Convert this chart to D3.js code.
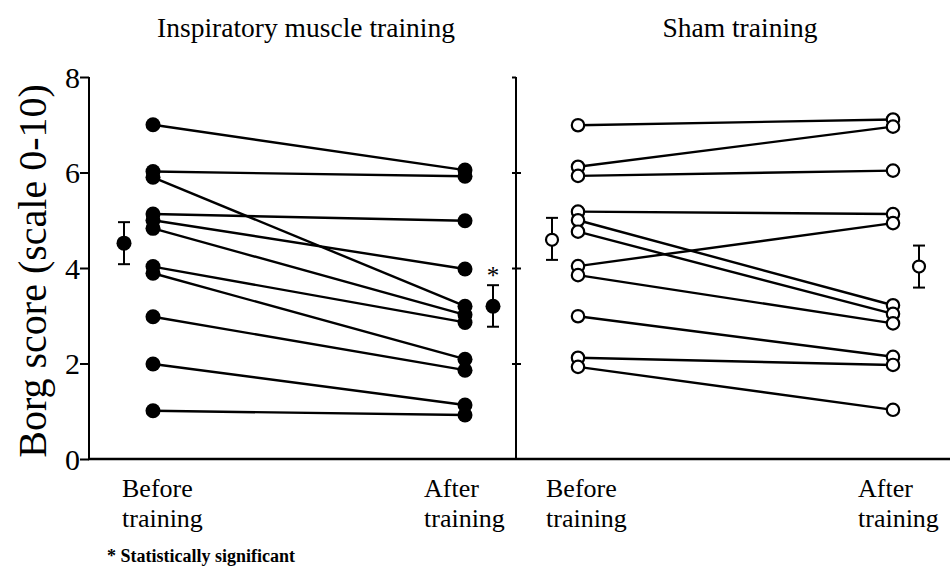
<!DOCTYPE html>
<html>
<head>
<meta charset="utf-8">
<script src="https://cdn.jsdelivr.net/npm/d3@7"></script>
<style>
  html, body { margin: 0; padding: 0; background: #fff; }
  svg { display: block; }
  text { font-family: "Liberation Serif", "Times New Roman", serif; fill: #000; }
</style>
</head>
<body>
<svg id="chart" width="950" height="574"></svg>
<script>
// ---------- DATA ----------
const panelTitles = ["Inspiratory muscle training", "Sham training"];
const timeLabels = [["Before", "training"], ["After", "training"]];
const yTicks = [0, 2, 4, 6, 8];
const yLabel = "Borg score (scale 0-10)";
const footnote = "* Statistically significant";

// Inspiratory muscle training: individual subjects (before, after)
const imtBefore = [7.0, 6.02, 5.9, 5.13, 5.0, 4.83, 4.03, 3.89, 2.98, 1.99, 1.01];
const imtAfter  = [6.05, 5.92, 3.2, 4.99, 3.98, 3.02, 2.86, 2.09, 1.86, 1.13, 0.92];
// Sham training: individual subjects (before, after)
const shamBefore = [6.99, 6.12, 5.93, 5.18, 5.0, 4.76, 4.04, 3.85, 2.99, 2.12, 1.93];
const shamAfter  = [7.11, 6.96, 6.04, 5.13, 3.22, 3.04, 4.94, 2.84, 2.14, 1.97, 1.03];

// Group means and error bars (mean, low, high)
const imtMeans  = [{mean: 4.52, lo: 4.08, hi: 4.96}, {mean: 3.2, lo: 2.77, hi: 3.64}];
const shamMeans = [{mean: 4.59, lo: 4.17, hi: 5.05}, {mean: 4.03, lo: 3.59, hi: 4.47}];
const significant = [false, true];

// ---------- LAYOUT ----------
const svg = d3.select("#chart");
const yTop = 77, yBottom = 459;
const y = d3.scaleLinear().domain([0, 8]).range([yBottom, yTop]);
const axisLeftX = 89, axisMidX = 516, axisRightEnd = 950;

const panels = [
  { title: panelTitles[0], before: imtBefore, after: imtAfter, means: imtMeans, filled: true,
    x: d3.scaleLinear().domain([0, 1]).range([153, 465]), meanOff: [-29, 28], titleX: 306,
    labelX: [122, 424], sig: true },
  { title: panelTitles[1], before: shamBefore, after: shamAfter, means: shamMeans, filled: false,
    x: d3.scaleLinear().domain([0, 1]).range([578, 893]), meanOff: [-26, 26], titleX: 740,
    labelX: [546, 858], sig: false }
];

// Axes
const gLeft = svg.append("g").attr("transform", `translate(${axisLeftX},0)`)
  .call(d3.axisLeft(y).tickValues(yTicks).tickSize(9).tickPadding(0).tickFormat(d3.format("d")));
gLeft.select(".domain").attr("d", `M0,${yTop}V${yBottom}`).attr("stroke-width", 2);
gLeft.selectAll(".tick line").attr("stroke-width", 2);
gLeft.selectAll(".tick text").style("font-size", "30px").attr("dy", "0.34em")
  .style("font-family", '"Liberation Serif", "Times New Roman", serif');

const gMidL = svg.append("g").attr("transform", `translate(${axisMidX},0)`)
  .call(d3.axisLeft(y).tickValues(yTicks.filter(d => d > 0)).tickSize(4).tickFormat(""));
gMidL.select(".domain").attr("d", `M0,${yTop}V${yBottom}`).attr("stroke-width", 2);
gMidL.selectAll(".tick line").attr("stroke-width", 2);

const gMidR = svg.append("g").attr("transform", `translate(${axisMidX},0)`)
  .call(d3.axisRight(y).tickValues(yTicks.filter(d => d > 0 && d < 8)).tickSize(5).tickFormat(""));
gMidR.select(".domain").remove();
gMidR.selectAll(".tick line").attr("stroke-width", 2);

// bottom baseline
svg.append("line").attr("x1", axisLeftX - 1).attr("x2", axisRightEnd)
  .attr("y1", y(0)).attr("y2", y(0)).attr("stroke", "#000").attr("stroke-width", 2.5);

// Y label
svg.append("text")
  .attr("transform", `translate(46,${(yTop + yBottom) / 2 + 3}) rotate(-90)`)
  .attr("text-anchor", "middle")
  .style("font-size", "40px")
  .text(yLabel);

panels.forEach(p => {
  const g = svg.append("g");
  // title
  g.append("text").attr("x", p.titleX).attr("y", 37).attr("text-anchor", "middle")
    .style("font-size", "27.5px").text(p.title);

  // subject lines
  const pairs = p.before.map((b, i) => ({ b, a: p.after[i] }));
  g.selectAll("line.subj").data(pairs).join("line").attr("class", "subj")
    .attr("x1", p.x(0)).attr("x2", p.x(1))
    .attr("y1", d => y(d.b)).attr("y2", d => y(d.a))
    .attr("stroke", "#000").attr("stroke-width", 2.4);

  // points
  const pts = [];
  p.before.forEach(v => pts.push({ t: 0, v }));
  p.after.forEach(v => pts.push({ t: 1, v }));
  g.selectAll("circle.pt").data(pts).join("circle").attr("class", "pt")
    .attr("cx", d => p.x(d.t)).attr("cy", d => y(d.v))
    .attr("r", p.filled ? 7.5 : 6.2)
    .attr("fill", p.filled ? "#000" : "#fff")
    .attr("stroke", "#000").attr("stroke-width", p.filled ? 0 : 2.2);

  // means + error bars
  p.means.forEach((m, i) => {
    const cx = p.x(i) + p.meanOff[i];
    g.append("line").attr("x1", cx).attr("x2", cx).attr("y1", y(m.hi)).attr("y2", y(m.lo))
      .attr("stroke", "#000").attr("stroke-width", 2);
    [m.hi, m.lo].forEach(v => g.append("line").attr("x1", cx - 6).attr("x2", cx + 6)
      .attr("y1", y(v)).attr("y2", y(v)).attr("stroke", "#000").attr("stroke-width", 2));
    g.append("circle").attr("cx", cx).attr("cy", y(m.mean))
      .attr("r", p.filled ? 7.5 : 6)
      .attr("fill", p.filled ? "#000" : "#fff")
      .attr("stroke", "#000").attr("stroke-width", p.filled ? 0 : 2.2);
    if (p.sig && significant[i]) {
      g.append("text").attr("x", cx).attr("y", y(m.hi) - 1).attr("text-anchor", "middle")
        .style("font-size", "25px").text("*");
    }
  });

  // x labels
  timeLabels.forEach((lines, i) => {
    const t = g.append("text").attr("x", p.labelX[i]).attr("y", 497).style("font-size", "26px");
    lines.forEach((l, k) => t.append("tspan").attr("x", p.labelX[i]).attr("dy", k ? 30 : 0).text(l));
  });
});

// footnote
svg.append("text").attr("x", 107).attr("y", 562)
  .style("font-size", "18px").style("font-weight", "bold").text(footnote);
</script>
</body>
</html>
